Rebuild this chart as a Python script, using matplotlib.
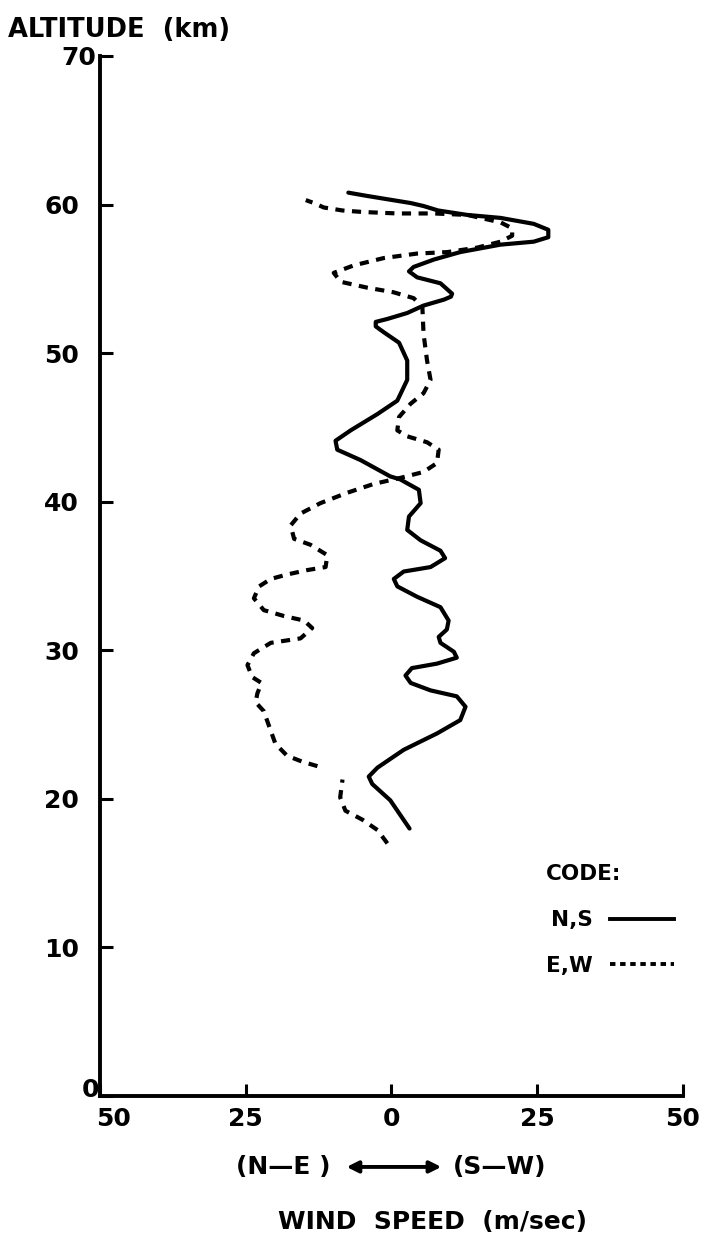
import numpy as np
import matplotlib.pyplot as plt
import matplotlib.transforms as mtransforms
from matplotlib.lines import Line2D
from matplotlib.patches import FancyArrowPatch

# N,S component (solid): wind speed (m/s, negative = N-E side), altitude (km)
ns_speed = [3.1, -0.2, -3.3, -3.9, -2.4, 2.1, 7.8, 11.8, 12.7, 11.2, 6.7, 3.3, 2.4,
            3.5, 7.8, 11.2, 10.7, 8.4, 8.1, 9.5, 9.8, 8.4, 4.4, 1.0, 0.4, 2.1,
            6.7, 9.2, 8.4, 5.0, 2.7, 3.0, 5.0, 4.7, 1.5, -0.2, -5.3, -9.3, -9.6,
            -7.0, -2.4, 1.0, 2.7, 2.7, 1.3, -1.3, -2.7, -2.7, -0.7, 2.7, 5.5, 9.0,
            10.2, 10.4, 8.4, 4.4, 3.0, 3.8, 7.3, 11.8, 18.7, 24.4, 26.9, 26.9,
            24.4, 18.7, 13.0, 8.0, 5.5, 3.3, -1.4, -4.5, -7.4]
ns_alt = [18.0, 19.9, 21.0, 21.5, 22.1, 23.3, 24.4, 25.3, 26.2, 26.9, 27.3, 27.8, 28.3,
          28.8, 29.1, 29.5, 29.9, 30.5, 30.9, 31.4, 32.0, 32.9, 33.6, 34.3, 34.8, 35.3,
          35.6, 36.2, 36.7, 37.4, 38.1, 39.0, 39.9, 40.8, 41.5, 41.7, 42.8, 43.5, 44.1,
          44.8, 45.9, 46.8, 48.2, 49.5, 50.7, 51.4, 51.8, 52.1, 52.3, 52.7, 53.2, 53.6,
          53.8, 54.0, 54.7, 55.1, 55.5, 55.8, 56.3, 56.8, 57.3, 57.5, 57.8, 58.3,
          58.7, 59.1, 59.3, 59.6, 59.9, 60.1, 60.4, 60.6, 60.8]

# E,W component (dashed); NaN marks the break in the trace near 22 km
ew_speed = [-0.7, -2.4, -5.0, -7.9, -8.8, -8.4, np.nan,
            -12.7, -15.3, -17.9, -19.9, -21.0, -21.9, -23.3, -23.0, -22.3, -23.9,
            -24.7, -23.6, -20.7, -15.6, -13.6, -15.0, -18.4, -21.9, -23.6, -22.7,
            -20.7, -17.9, -14.4, -11.3, -11.0, -13.9, -16.7, -17.3, -15.6, -12.2,
            -7.6, -3.0, 1.5, 5.5, 7.8, 8.1, 6.1, 2.7, 1.0, 1.3, 3.3, 5.5, 6.7,
            6.1, 5.5, 5.3, 3.8, 0.3, -4.1, -8.7, -9.9, -6.5, -1.3, 4.4, 9.6, 14.7,
            18.7, 20.7, 20.7, 18.7, 13.0, 7.3, 1.0, -5.0, -8.4, -11.6, -13.3, -14.7]
ew_alt = [17.0, 17.9, 18.6, 19.2, 20.1, 21.3, np.nan,
          22.2, 22.5, 22.9, 23.7, 24.9, 25.9, 26.5, 27.1, 27.8, 28.2,
          29.0, 29.8, 30.5, 30.8, 31.5, 32.0, 32.3, 32.7, 33.5, 34.3,
          34.8, 35.1, 35.4, 35.6, 36.4, 37.1, 37.5, 38.4, 39.2, 39.9,
          40.6, 41.2, 41.6, 42.0, 42.6, 43.5, 44.0, 44.4, 44.8, 45.7, 46.6, 47.3, 48.2,
          49.5, 51.3, 53.1, 53.7, 54.1, 54.4, 54.8, 55.4, 55.9, 56.4, 56.7, 56.8, 57.1,
          57.5, 57.9, 58.4, 58.8, 59.3, 59.4, 59.4, 59.5, 59.6, 59.8, 60.1, 60.3]

xticks = [-50, -25, 0, 25, 50]
xticklabels = ['50', '25', '0', '25', '50']
yticks = [0, 10, 20, 30, 40, 50, 60, 70]

plt.rcParams['font.family'] = 'DejaVu Sans'
plt.rcParams['font.weight'] = 'bold'

fig = plt.figure(figsize=(7.06, 12.38), dpi=100)
ax = fig.add_axes([0.1416, 0.1147, 0.8258, 0.8401])

ax.plot(ns_speed, ns_alt, c='k', lw=3.0, solid_capstyle='round',
        solid_joinstyle='round')
ax.plot(ew_speed, ew_alt, c='k', lw=3.0, dashes=(2.2, 1.8),
        dash_joinstyle='round')

ax.set_xlim(-50, 50)
ax.set_ylim(0, 70)
ax.set_xticks(xticks)
ax.set_xticklabels(xticklabels)
ax.set_yticks(yticks)
for s in ['top', 'right']:
    ax.spines[s].set_visible(False)
for s in ['left', 'bottom']:
    ax.spines[s].set_linewidth(2.8)
ax.tick_params(direction='in', length=9, width=2.2, labelsize=18, pad=8)
ax.tick_params(axis='y', pad=15)


def nudge(label, dx, dy):
    # hand-lettered labels sit off the regular grid
    label.set_transform(label.get_transform()
                        + mtransforms.ScaledTranslation(dx, dy, fig.dpi_scale_trans))


nudge(ax.get_xticklabels()[0], 0.14, 0)
nudge(ax.get_yticklabels()[0], 0.20, 0.09)
nudge(ax.get_yticklabels()[-1], 0.17, 0)

fig.text(0.012, 0.976, 'ALTITUDE  (km)', fontsize=18.5, fontweight='bold', va='center')
fig.text(0.401, 0.0574, '(N—E )', fontsize=18, ha='center', va='center')
fig.text(0.708, 0.0574, '(S—W)', fontsize=18, ha='center', va='center')
fig.patches.append(FancyArrowPatch(
    (0.487, 0.0574), (0.629, 0.0574), transform=fig.transFigure,
    arrowstyle='<|-|>', mutation_scale=17, lw=2.8, color='k'))
fig.text(0.613, 0.013, 'WIND  SPEED  (m/sec)', fontsize=18, ha='center', va='center')

handles = [Line2D([], [], c='k', lw=2.8),
           Line2D([], [], c='k', lw=2.8, dashes=(1.4, 1.2))]
leg = ax.legend(handles, ['N,S', 'E,W'], title='CODE:', markerfirst=False,
                frameon=False, loc='upper left', bbox_to_anchor=(0.75, 0.231),
                fontsize=15.5, title_fontsize=15.5, handlelength=3.0,
                labelspacing=1.2, alignment='left', borderaxespad=0)
leg.get_title().set_fontweight('bold')

plt.savefig('out.png', dpi=100)
